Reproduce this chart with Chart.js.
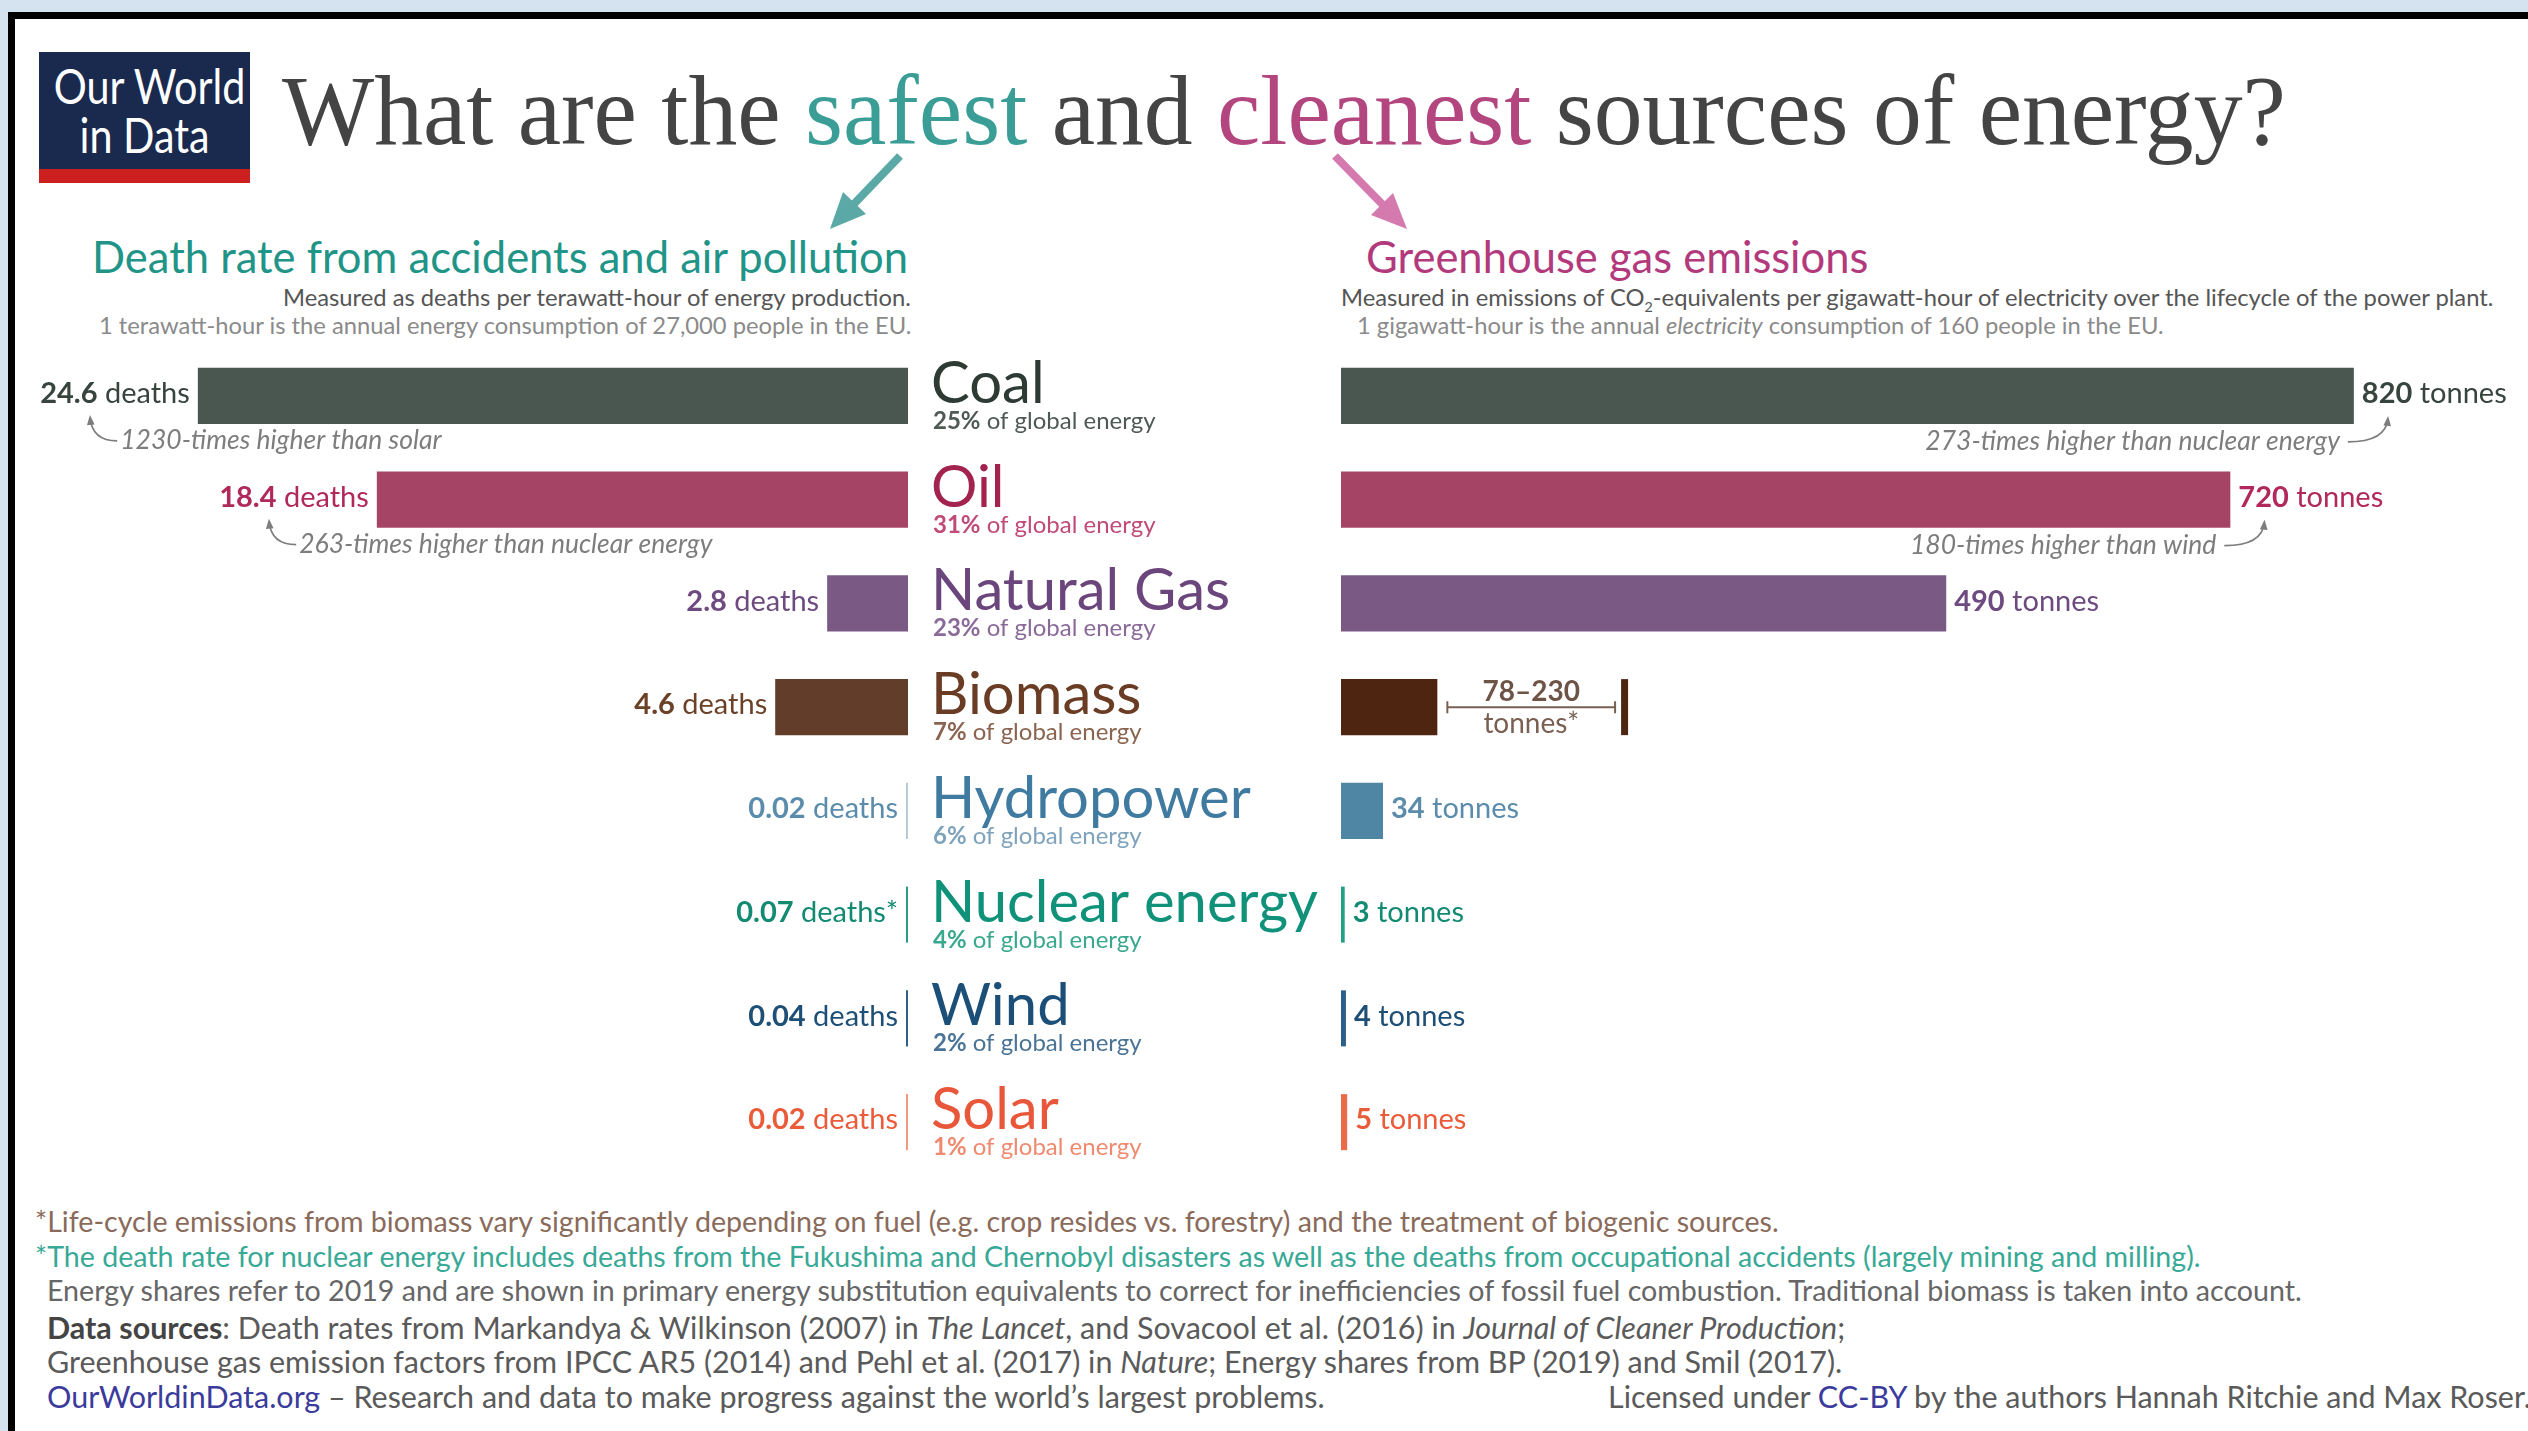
<!DOCTYPE html>
<html>
<head>
<meta charset="utf-8">
<script src="https://cdn.jsdelivr.net/npm/chart.js@4.4.0/dist/chart.umd.min.js"></script>
<style>
  html, body { margin: 0; padding: 0; }
  body { width: 2528px; height: 1431px; overflow: hidden; background: #d5e3f1; font-family: Lato, sans-serif; position: relative; }
  #frame { position: absolute; left: 8px; top: 12px; right: 0; bottom: 0; background: #fff; border-left: 7px solid #000; border-top: 7px solid #000; }
  .t { position: absolute; white-space: nowrap; line-height: 1; }
  .serif { font-family: "Liberation Serif", serif; }
  #logo { position: absolute; left: 39px; top: 52px; width: 211px; height: 117px; background: #1a2a4f; border-bottom: 14px solid #cc1f1f; }
  #logo div { color: #fff; font-size: 48px; line-height: 49px; text-align: center; padding-top: 9px; white-space: nowrap; transform: scaleX(0.86); transform-origin: center top; }
  sub { font-size: 0.6em; line-height: 0; }
  .blue { color: #3b3b9c; }
</style>
</head>
<body>
<div id="frame"></div>
<div id="logo"><div>Our World<br>in Data</div></div>
<div id="title" class="t serif" style="font-size:100px;color:#444">What are the <span style="color:#3a9e97">safest</span> and <span style="color:#b3457f">cleanest</span> sources of energy?</div>
<svg style="position:absolute;left:0;top:0" width="2528" height="300">
  <line x1="900" y1="156" x2="852" y2="206" stroke="#5aa9a6" stroke-width="8"/>
  <polygon points="830,229 866,214 843,192" fill="#5aa9a6"/>
  <line x1="1335" y1="156" x2="1384" y2="206" stroke="#d47aae" stroke-width="8"/>
  <polygon points="1407,229 1371,215 1393,193" fill="#d47aae"/>
</svg>
<div id="subL" class="t" style="font-size:42px;color:#219488">Death rate from accidents and air pollution</div>
<div id="subR" class="t" style="font-size:42px;color:#b23a7c">Greenhouse gas emissions</div>
<div id="noteL1" class="t" style="font-size:22px;color:#555">Measured as deaths per terawatt-hour of energy production.</div>
<div id="noteL2" class="t" style="font-size:22px;color:#8a8a8a">1 terawatt-hour is the annual energy consumption of 27,000 people in the EU.</div>
<div id="noteR1" class="t" style="font-size:22px;color:#555">Measured in emissions of CO<sub>2</sub>-equivalents per gigawatt-hour of electricity over the lifecycle of the power plant.</div>
<div id="noteR2" class="t" style="font-size:22px;color:#8a8a8a">1 gigawatt-hour is the annual <i>electricity</i> consumption of 160 people in the EU.</div>

<div style="position:absolute;left:18px;top:344px;width:1312px;height:830px"><canvas id="deaths"></canvas></div>
<div style="position:absolute;left:1330px;top:344px;width:1198px;height:830px"><canvas id="ghg"></canvas></div>

<div id="f1" class="t" style="font-size:27px;color:#8a6b5b">*Life-cycle emissions from biomass vary significantly depending on fuel (e.g. crop resides vs. forestry) and the treatment of biogenic sources.</div>
<div id="f2" class="t" style="font-size:27px;color:#38a996">*The death rate for nuclear energy includes deaths from the Fukushima and Chernobyl disasters as well as the deaths from occupational accidents (largely mining and milling).</div>
<div id="f3" class="t" style="font-size:27px;color:#666">Energy shares refer to 2019 and are shown in primary energy substitution equivalents to correct for inefficiencies of fossil fuel combustion. Traditional biomass is taken into account.</div>
<div id="f4" class="t" style="font-size:27px;color:#5a5a5a"><b style="color:#444">Data sources</b>: Death rates from Markandya &amp; Wilkinson (2007) in <i>The Lancet</i>, and Sovacool et al. (2016) in <i>Journal of Cleaner Production</i>;</div>
<div id="f5" class="t" style="font-size:27px;color:#5a5a5a">Greenhouse gas emission factors from IPCC AR5 (2014) and Pehl et al. (2017) in <i>Nature</i>; Energy shares from BP (2019) and Smil (2017).</div>
<div id="f6" class="t" style="font-size:27px;color:#5a5a5a"><span class="blue">OurWorldinData.org</span> – Research and data to make progress against the world’s largest problems.</div>
<div id="f7" class="t" style="font-size:27px;color:#5a5a5a">Licensed under <span class="blue">CC-BY</span> by the authors Hannah Ritchie and Max Roser.</div>

<script>
const sources = ['Coal', 'Oil', 'Natural Gas', 'Biomass', 'Hydropower', 'Nuclear energy', 'Wind', 'Solar'];
const deathRates = [24.6, 18.4, 2.8, 4.6, 0.02, 0.07, 0.04, 0.02];
const deathMarks = ['', '', '', '', '', '*', '', ''];
const emissions = [820, 720, 490, 78, 34, 3, 4, 5];
const emissionsHigh = [null, null, null, 230, null, null, null, null];
const energyShares = [25, 31, 23, 7, 6, 4, 2, 1];
const deathNotes = [[0, '1230-times higher than solar'], [1, '263-times higher than nuclear energy']];
const emissionNotes = [[0, '273-times higher than nuclear energy'], [1, '180-times higher than wind']];

const leftColors = ['#4a5650', '#a64465', '#7a5a85', '#623d2a', '#b9c9d5', '#2a9d84', '#2f5f86', '#f19a82'];
const rightColors = ['#4a5650', '#a64465', '#7a5a85', '#4e2511', '#4f86a3', '#22a085', '#2b5e88', '#ec6a4c'];
const valueColors = ['#38443e', '#b0285c', '#6d4a7f', '#6b4128', '#5b8cab', '#138a72', '#1e4f76', '#ea5b3a'];
const nameColors = ['#2e3a34', '#a3234f', '#6b467c', '#6a3c24', '#3f7aa0', '#10917a', '#1b4f78', '#e8573a'];
const shareColors = ['#4f5a55', '#c04a78', '#8a6a98', '#8a6450', '#7ea3bb', '#3aa88f', '#4a7396', '#ef8a70'];
const noteColor = '#7d7d7d';

// text layout helpers for the html header/footer
function fitFont(id, width) {
  const el = document.getElementById(id);
  const fs = parseFloat(el.style.fontSize) * width / el.offsetWidth;
  el.style.fontSize = fs + 'px';
  return fs;
}
function place(id, x, baseline, align) {
  const el = document.getElementById(id);
  const fs = parseFloat(el.style.fontSize);
  el.style.top = (baseline - 0.887 * fs) + 'px';
  el.style.left = (align === 'right' ? x - el.offsetWidth : x) + 'px';
}

const title = document.getElementById('title');
title.style.left = '282px';
title.style.top = (145 - 83.75) + 'px';
title.style.transformOrigin = 'left top';
title.style.transform = 'scaleX(' + (2004 / title.offsetWidth) + ')';

const subSize = fitFont('subL', 816);
document.getElementById('subR').style.fontSize = subSize + 'px';
place('subL', 908, 274, 'right');
place('subR', 1366, 274);
const noteSize = fitFont('noteR1', 1152);
['noteL1', 'noteL2', 'noteR2'].forEach(id => document.getElementById(id).style.fontSize = noteSize + 'px');
place('noteL1', 911, 307, 'right');
place('noteL2', 911, 335, 'right');
place('noteR1', 1341, 307);
place('noteR2', 1357, 335);

const footSize = fitFont('f3', 2255);
['f1', 'f2'].forEach(id => document.getElementById(id).style.fontSize = footSize + 'px');
['f4', 'f5', 'f6', 'f7'].forEach(id => document.getElementById(id).style.fontSize = (footSize * 1.065) + 'px');
place('f1', 35, 1232);
place('f2', 35, 1267);
place('f3', 47, 1301);
place('f4', 47, 1339);
place('f5', 47, 1373);
place('f6', 47, 1408);
place('f7', 2531, 1408, 'right');

// canvas helpers
function drawParts(ctx, parts, x, y, align) {
  let total = 0;
  parts.forEach(p => { ctx.font = p.font; p.w = ctx.measureText(p.text).width; total += p.w; });
  let cx = align === 'right' ? x - total : align === 'center' ? x - total / 2 : x;
  const left = cx;
  ctx.textAlign = 'left';
  parts.forEach(p => { ctx.font = p.font; ctx.fillStyle = p.color; ctx.fillText(p.text, cx, y); cx += p.w; });
  return { left: left, right: cx };
}

function curvedArrow(ctx, x0, y0, cx, cy, x1, y1) {
  ctx.save();
  ctx.strokeStyle = noteColor;
  ctx.fillStyle = noteColor;
  ctx.lineWidth = 1.6;
  ctx.beginPath();
  ctx.moveTo(x0, y0);
  ctx.quadraticCurveTo(cx, cy, x1, y1);
  ctx.stroke();
  const a = Math.atan2(y1 - cy, x1 - cx);
  ctx.beginPath();
  ctx.moveTo(x1 + 3 * Math.cos(a), y1 + 3 * Math.sin(a));
  ctx.lineTo(x1 - 8 * Math.cos(a - 0.5), y1 - 8 * Math.sin(a - 0.5));
  ctx.lineTo(x1 - 8 * Math.cos(a + 0.5), y1 - 8 * Math.sin(a + 0.5));
  ctx.closePath();
  ctx.fill();
  ctx.restore();
}

const deathLabels = {
  id: 'deathLabels',
  afterDatasetsDraw(chart) {
    const ctx = chart.ctx;
    const area = chart.chartArea;
    const boxes = [];
    ctx.save();
    chart.getDatasetMeta(0).data.forEach((bar, i) => {
      ctx.textBaseline = 'middle';
      boxes[i] = drawParts(ctx, [
        { text: String(deathRates[i]), font: 'bold 29px Lato', color: valueColors[i] },
        { text: ' deaths' + deathMarks[i], font: '29px Lato', color: valueColors[i] }
      ], bar.x - 8, bar.y - 2, 'right');

      ctx.textBaseline = 'alphabetic';
      drawParts(ctx, [{ text: sources[i], font: '58px Lato', color: nameColors[i] }], area.right + 23, bar.y + 7, 'left');
      drawParts(ctx, [
        { text: energyShares[i] + '%', font: 'bold 24px Lato', color: shareColors[i] },
        { text: ' of global energy', font: '24px Lato', color: shareColors[i] }
      ], area.right + 25, bar.y + 33, 'left');
    });
    deathNotes.forEach(([i, text]) => {
      const bar = chart.getDatasetMeta(0).data[i];
      const tx = boxes[i].left + 80;
      const ty = bar.y + 45;
      ctx.textBaseline = 'middle';
      drawParts(ctx, [{ text: text, font: 'italic 26.5px Lato', color: noteColor }], tx, ty, 'left');
      curvedArrow(ctx, tx - 3, ty, boxes[i].left + 52, ty, boxes[i].left + 50, bar.y + 22);
    });
    ctx.restore();
  }
};

const emissionLabels = {
  id: 'emissionLabels',
  afterDatasetsDraw(chart) {
    const ctx = chart.ctx;
    const xs = chart.scales.x;
    const boxes = [];
    ctx.save();
    chart.getDatasetMeta(0).data.forEach((bar, i) => {
      if (emissionsHigh[i] != null) {
        const hx = xs.getPixelForValue(emissionsHigh[i]);
        const top = bar.y - bar.height / 2;
        ctx.fillStyle = rightColors[i];
        ctx.fillRect(hx - 4, top, 7, bar.height);
        const x0 = bar.x + 10, x1 = hx - 10, ly = bar.y;
        ctx.strokeStyle = '#7a6052';
        ctx.lineWidth = 2;
        ctx.beginPath();
        ctx.moveTo(x0, ly); ctx.lineTo(x1, ly);
        ctx.moveTo(x0, ly - 6); ctx.lineTo(x0, ly + 6);
        ctx.moveTo(x1, ly - 6); ctx.lineTo(x1, ly + 6);
        ctx.stroke();
        ctx.textBaseline = 'alphabetic';
        drawParts(ctx, [{ text: emissions[i] + '–' + emissionsHigh[i], font: 'bold 28px Lato', color: '#6e5446' }], (x0 + x1) / 2, ly - 6, 'center');
        drawParts(ctx, [{ text: 'tonnes*', font: '28px Lato', color: '#7a6052' }], (x0 + x1) / 2, ly + 26, 'center');
        return;
      }
      ctx.textBaseline = 'middle';
      boxes[i] = drawParts(ctx, [
        { text: String(emissions[i]), font: 'bold 29px Lato', color: valueColors[i] },
        { text: ' tonnes', font: '29px Lato', color: valueColors[i] }
      ], bar.x + 8, bar.y - 2, 'left');
    });
    emissionNotes.forEach(([i, text]) => {
      const bar = chart.getDatasetMeta(0).data[i];
      const ty = bar.y + 46;
      ctx.textBaseline = 'middle';
      drawParts(ctx, [{ text: text, font: 'italic 26.5px Lato', color: noteColor }], boxes[i].left - 22, ty, 'right');
      curvedArrow(ctx, boxes[i].left - 14, ty, boxes[i].left + 24, ty, boxes[i].left + 26, bar.y + 23);
    });
    ctx.restore();
  }
};

const baseOptions = (xScale, padding) => ({
  indexAxis: 'y',
  responsive: true,
  maintainAspectRatio: false,
  animation: false,
  layout: { padding: padding },
  plugins: { legend: { display: false }, tooltip: { enabled: false } },
  scales: {
    x: xScale,
    y: { display: false }
  }
});

new Chart(document.getElementById('deaths'), {
  type: 'bar',
  data: {
    labels: sources,
    datasets: [{
      label: 'Deaths per TWh',
      data: deathRates,
      backgroundColor: leftColors,
      barPercentage: 0.54,
      categoryPercentage: 1,
      minBarLength: 2
    }]
  },
  options: baseOptions({ display: false, reverse: true, min: 0, max: 30.83 }, { left: 0, right: 422, top: 0, bottom: 0 }),
  plugins: [deathLabels]
});

new Chart(document.getElementById('ghg'), {
  type: 'bar',
  data: {
    labels: sources,
    datasets: [{
      label: 'Tonnes CO2eq per GWh',
      data: emissions,
      backgroundColor: rightColors,
      barPercentage: 0.54,
      categoryPercentage: 1,
      minBarLength: 2
    }]
  },
  options: baseOptions({ display: false, min: 0, max: 961 }, { left: 11, right: 0, top: 0, bottom: 0 }),
  plugins: [emissionLabels]
});
</script>
</body>
</html>
